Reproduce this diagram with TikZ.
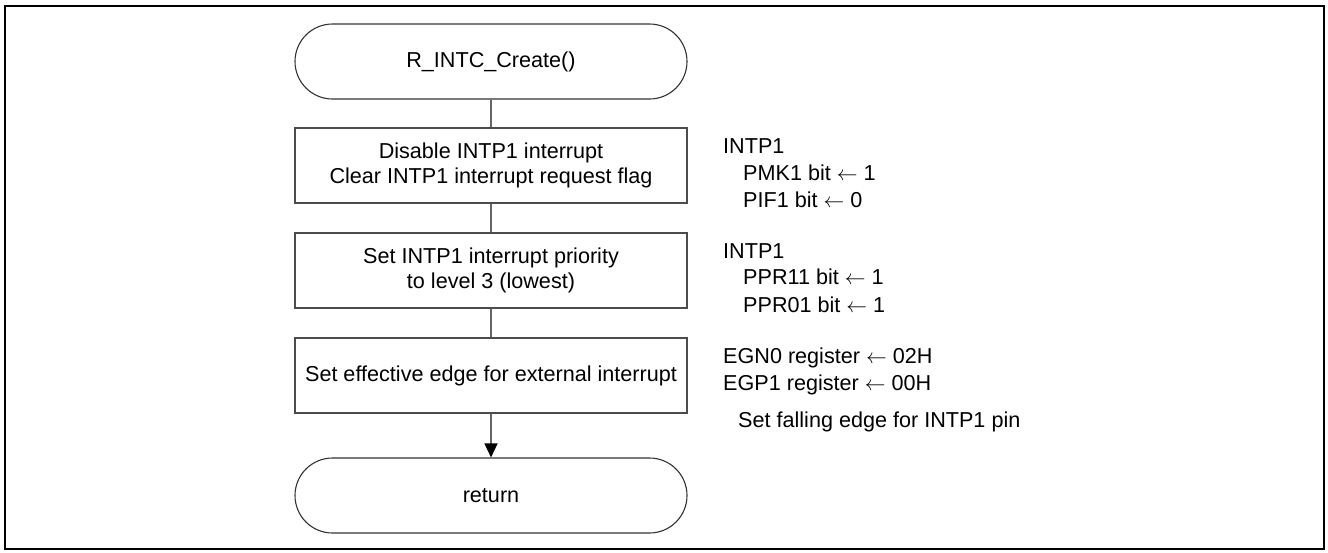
\documentclass[tikz,border=0pt]{standalone}
\usepackage{fontspec}
\setmainfont{Liberation Sans}
\usetikzlibrary{arrows.meta,shapes.misc}

\begin{document}
\begin{tikzpicture}[x=1pt,y=-1pt,
  every node/.style={font=\fontsize{21.6}{25}\selectfont, text=black},
  terminal/.style={rounded rectangle, draw=black!80, line width=1.1pt,
    minimum width=392pt, minimum height=75pt, inner sep=0pt},
  procbox/.style={rectangle, draw=black!70, line width=1.3pt,
    minimum width=392pt, minimum height=75pt, inner sep=0pt, align=center},
  flow/.style={draw=black!60, line width=1.3pt},
  note/.style={anchor=base west, inner sep=0pt}
]
% page extent and outer frame
\useasboundingbox (0,0) rectangle (1328,552);
\draw[line width=2.2pt] (5,6) rectangle (1324,549);

% flow chart
\node[terminal] (start) at (491,61.5) {R\_INTC\_Create()};
\node[procbox]  (b1) at (491,165.5) {Disable INTP1 interrupt\\Clear INTP1 interrupt request flag};
\node[procbox]  (b2) at (491,270.5) {Set INTP1 interrupt priority\\to level 3 (lowest)};
\node[procbox]  (b3) at (491,375.5) {Set effective edge for external interrupt};
\node[terminal] (ret) at (491,495.5) {return};

\draw[flow] (start.south) -- (b1.north);
\draw[flow] (b1.south) -- (b2.north);
\draw[flow] (b2.south) -- (b3.north);
\draw[flow, -{Triangle[length=14pt,width=13pt,color=black]}] (b3.south) -- (ret.north);

% register settings
\node[note] (n1a) at (723,153) {INTP1};
\node[note] (n1b) at (743,180) {PMK1 bit \(\leftarrow\) 1};
\node[note] (n1c) at (743,207.5) {PIF1 bit \(\leftarrow\) 0};
\node[note] (n2a) at (723,258) {INTP1};
\node[note] (n2b) at (743,284.5) {PPR11 bit \(\leftarrow\) 1};
\node[note] (n2c) at (743,312) {PPR01 bit \(\leftarrow\) 1};
\node[note] (n3a) at (723,363) {EGN0 register \(\leftarrow\) 02H};
\node[note] (n3b) at (723,390) {EGP1 register \(\leftarrow\) 00H};
\node[note] (n3c) at (738,427) {Set falling edge for INTP1 pin};
\end{tikzpicture}
\end{document}
